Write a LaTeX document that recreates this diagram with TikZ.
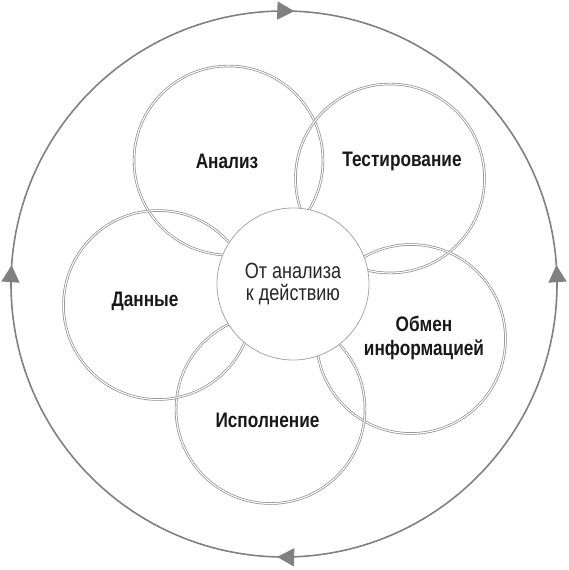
\documentclass[tikz,border=0pt]{standalone}
\usepackage{fontspec}
\newfontfamily\petalfont{Liberation Sans}[FakeStretch=0.82]
\usetikzlibrary{arrows.meta,decorations.markings}
\newcommand*{\ringR}{273}
\newcommand*{\petalD}{189pt}
\newcommand*{\hubD}{152pt}

\begin{document}
\begin{tikzpicture}[x=1pt,y=-1pt,
	ring/.style={draw=black!50,line width=1.6pt,
		decoration={markings,
			mark=at position 0.254 with {\arrow{Triangle[length=17pt,width=18pt]}},
			mark=at position 0.511 with {\arrow{Triangle[length=17pt,width=18pt]}},
			mark=at position 0.756 with {\arrow{Triangle[length=17pt,width=18pt]}},
			mark=at position 0.989 with {\arrowreversed{Triangle[length=17pt,width=18pt]}}},
		postaction={decorate}},
	petal/.style={circle,draw=black!45,line width=0.7pt,double=white,double distance=1.1pt,minimum size=\petalD,inner sep=0pt},
	hub/.style={circle,draw=black!35,line width=0.8pt,fill=white,minimum size=\hubD,inner sep=0pt,align=center,
		font=\petalfont\fontsize{22}{22}\selectfont,text=black!85},
	tag/.style={align=center,font=\petalfont\bfseries\fontsize{21}{24}\selectfont,text=black!90}]

	\useasboundingbox (0,0) rectangle (569,570);

	\coordinate (O) at (284,284);
	\draw[ring] (O) circle (\ringR);

	% petals
	\node[petal] (analiz) at (228.5,160.5) {};
	\node[petal] (test) at (390,178.5) {};
	\node[petal] (obmen) at (411,339) {};
	\node[petal] (isp) at (270.5,409) {};
	\node[petal] (dannye) at (158,305) {};

	\node[tag] (analiz text) at (227,161) {Анализ};
	\node[tag] (test text) at (402,161) {Тестирование};
	\node[tag] (obmen text) at (424,338) {Обмен\\информацией};
	\node[tag] (isp text) at (267.5,420) {Исполнение};
	\node[tag] (dannye text) at (145,301) {Данные};

	\node[hub] (hub) at (293,284) {От анализа\\к действию};

\end{tikzpicture}
\end{document}
